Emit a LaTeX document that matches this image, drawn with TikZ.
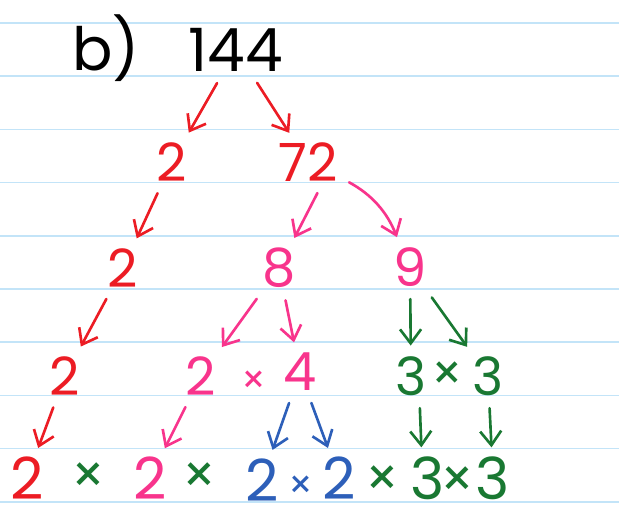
\documentclass[tikz,border=0pt]{standalone}
\usepackage{fontspec}
\setmainfont{Poppins}
\usetikzlibrary{arrows.meta}

\definecolor{penred}{RGB}{236,28,36}
\definecolor{penpink}{RGB}{248,52,140}
\definecolor{penblue}{RGB}{45,95,185}
\definecolor{pengreen}{RGB}{25,120,50}
\definecolor{ruled}{RGB}{195,228,248}

\tikzset{
  num/.style={inner sep=2pt, font=\fontsize{30}{32}\selectfont},
  low/.style={inner sep=1pt, font=\fontsize{33}{35}\selectfont},
  big/.style={inner sep=2pt, font=\fontsize{34}{36}\selectfont},
  times/.style={inner sep=1pt, font=\fontsize{30}{32}\selectfont},
  arr/.style={-{Straight Barb[length=8pt,width=12pt]}, line width=1.5pt, line cap=round, shorten <=5pt, shorten >=4pt}
}

\begin{document}
\begin{tikzpicture}[x=0.02cm,y=-0.02cm]
\useasboundingbox (0,0) rectangle (619,513);
\fill[white] (0,0) rectangle (619,513);
% ruled paper
\foreach \k in {0,...,9}
  \draw[ruled, line width=0.8pt] (0,23+53.2*\k) -- (619,23+53.2*\k);

\node[big] (part) at (106,48) {b)};
\node[big] (n144) at (236,50) {144};

\node[num, text=penred] (a2) at (172,162) {2};
\node[num, text=penred] (a72) at (308,162) {72};

\node[num, text=penred] (b2) at (123,268) {2};
\node[num, text=penpink] (b8) at (279,268) {8};
\node[num, text=penpink] (b9) at (410,267) {9};

\node[num, text=penred] (c2) at (65,376) {2};
\node[num, text=penpink] (c2p) at (201,376) {2};
\node[times, font=\fontsize{22}{24}\selectfont, text=penpink] (cx) at (254,382) {×};
\node[num, text=penpink] (c4) at (300,372) {4};
\node[num, text=pengreen] (c3a) at (411,376) {3};
\node[times, font=\fontsize{28}{30}\selectfont, text=pengreen] (cx2) at (447,376) {×};
\node[num, text=pengreen] (c3b) at (488,376) {3};

\node[low, text=penred] (d2) at (27,478) {2};
\node[times, text=pengreen] (dx1) at (88,478) {×};
\node[low, text=penpink] (d2p) at (150,478) {2};
\node[times, text=pengreen] (dx2) at (199,478) {×};
\node[low, text=penblue] (d2b) at (262,480) {2};
\node[times, font=\fontsize{22}{24}\selectfont, text=penblue] (dx3) at (301,487) {×};
\node[low, text=penblue] (d2c) at (339,478) {2};
\node[times, text=pengreen] (dx4) at (382,481) {×};
\node[low, text=pengreen] (d3a) at (428,478) {3};
\node[times, text=pengreen] (dx5) at (457,482) {×};
\node[low, text=pengreen] (d3b) at (493,478) {3};

\draw[arr, penred] (n144) -- (a2);
\draw[arr, penred] (n144) -- (a72);
\draw[arr, penred] (a2) -- (b2);
\draw[arr, penpink] (a72.-60) -- (b8);
\draw[arr, penpink] (a72) to[bend left=20] (b9);
\draw[arr, penred] (b2) -- (c2);
\draw[arr, penpink] (b8) -- (c2p);
\draw[arr, penpink] (b8) -- (c4);
\draw[arr, pengreen] (b9) -- (c3a);
\draw[arr, pengreen] (b9) -- (c3b);
\draw[arr, penred] (c2) -- (d2);
\draw[arr, penpink] (c2p) -- (d2p);
\draw[arr, penblue] (c4) -- (d2b);
\draw[arr, penblue] (c4) -- (d2c);
\draw[arr, pengreen] (c3a.-70) -- (d3a.105);
\draw[arr, pengreen] (c3b) -- (d3b);
\end{tikzpicture}
\end{document}
